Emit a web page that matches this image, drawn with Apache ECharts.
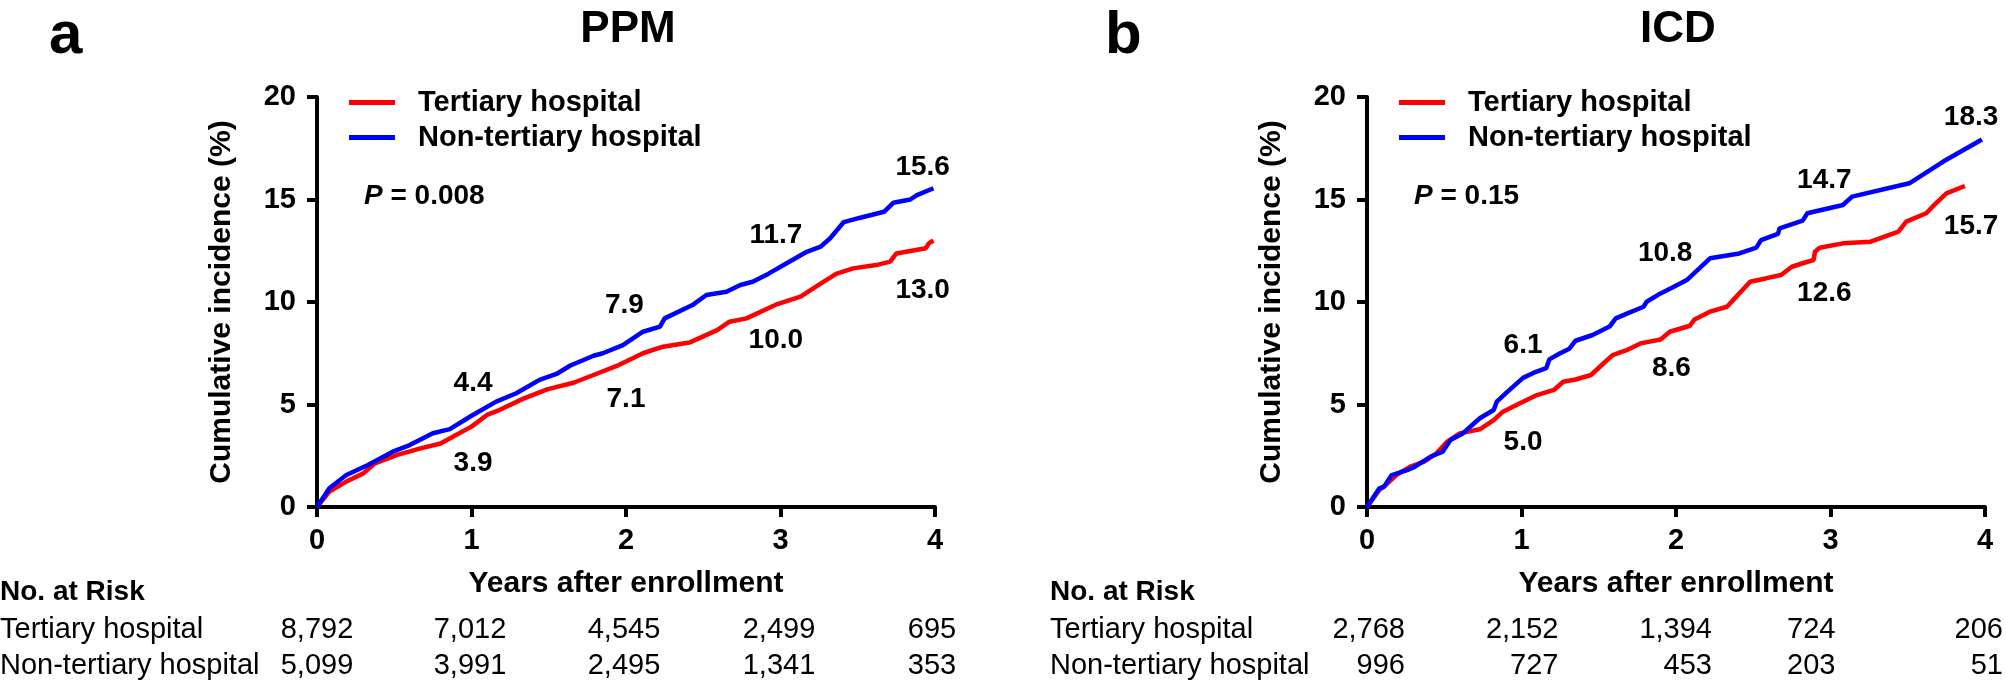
<!DOCTYPE html>
<html><head><meta charset="utf-8">
<script src="https://cdn.jsdelivr.net/npm/echarts@6/dist/echarts.min.js"></script>
<style>html,body{margin:0;padding:0;background:#fff}#c{width:2006px;height:687px}</style>
</head><body><div id="c"></div>
<script>
// ---------------- DATA ----------------
const panelTitles = ['PPM', 'ICD'];
const panelLetters = ['a', 'b'];
const seriesNames = ['Tertiary hospital', 'Non-tertiary hospital'];
const years = [0, 1, 2, 3, 4];
const pValues = ['0.008', '0.15'];
const xAxisTitle = 'Years after enrollment';
const yAxisTitle = 'Cumulative incidence (%)';
const riskTitle = 'No. at Risk';

// [years, cumulative incidence %]
const ppmTertiary = [[0,0],[0.08,0.75],[0.19,1.24],[0.30,1.64],[0.375,2.13],[0.52,2.54],[0.67,2.86],[0.80,3.1],[0.90,3.51],[1.0,3.92],[1.10,4.49],[1.18,4.73],[1.34,5.3],[1.49,5.74],[1.66,6.06],[1.79,6.44],[1.94,6.88],[2.0,7.1],[2.11,7.5],[2.24,7.82],[2.41,8.02],[2.59,8.63],[2.67,9.04],[2.78,9.2],[2.98,9.9],[3.13,10.26],[3.26,10.9],[3.36,11.37],[3.47,11.64],[3.62,11.8],[3.71,11.97],[3.75,12.37],[3.94,12.62],[3.96,12.86],[3.99,13.0]];
const ppmNonTertiary = [[0,0],[0.08,0.91],[0.19,1.56],[0.33,2.05],[0.49,2.7],[0.60,3.02],[0.75,3.6],[0.86,3.8],[1.0,4.45],[1.16,5.14],[1.29,5.55],[1.44,6.2],[1.55,6.49],[1.64,6.9],[1.79,7.38],[1.85,7.5],[1.98,7.9],[2.11,8.55],[2.22,8.8],[2.25,9.2],[2.43,9.85],[2.52,10.34],[2.65,10.5],[2.74,10.83],[2.82,10.99],[2.92,11.37],[3.04,11.89],[3.17,12.45],[3.26,12.7],[3.32,13.1],[3.41,13.9],[3.51,14.1],[3.67,14.4],[3.73,14.84],[3.84,15.0],[3.88,15.2],[3.99,15.55]];
const icdTertiary = [[0,0],[0.08,0.83],[0.11,0.99],[0.19,1.56],[0.28,1.97],[0.37,2.21],[0.45,2.62],[0.52,3.19],[0.60,3.59],[0.73,3.79],[0.82,4.24],[0.88,4.65],[0.99,5.06],[1.10,5.46],[1.21,5.71],[1.27,6.11],[1.35,6.22],[1.45,6.44],[1.53,7.0],[1.59,7.41],[1.68,7.65],[1.77,7.98],[1.90,8.17],[1.96,8.55],[2.09,8.84],[2.12,9.15],[2.22,9.53],[2.33,9.77],[2.41,10.42],[2.48,10.99],[2.58,11.15],[2.68,11.32],[2.75,11.72],[2.82,11.89],[2.89,12.05],[2.90,12.45],[2.93,12.65],[3.08,12.86],[3.26,12.94],[3.44,13.43],[3.49,13.92],[3.62,14.33],[3.66,14.65],[3.75,15.3],[3.87,15.66]];
const icdNonTertiary = [[0,0],[0.08,0.91],[0.11,0.99],[0.16,1.56],[0.26,1.8],[0.31,1.97],[0.41,2.45],[0.49,2.7],[0.54,3.27],[0.62,3.59],[0.73,4.33],[0.82,4.73],[0.84,5.14],[0.91,5.63],[1.01,6.3],[1.08,6.55],[1.16,6.77],[1.18,7.2],[1.25,7.5],[1.31,7.72],[1.35,8.11],[1.46,8.39],[1.57,8.8],[1.61,9.2],[1.69,9.46],[1.79,9.77],[1.81,10.01],[1.90,10.42],[1.98,10.72],[2.07,11.07],[2.22,12.13],[2.41,12.37],[2.52,12.65],[2.55,13.02],[2.66,13.32],[2.67,13.59],[2.82,13.97],[2.85,14.33],[3.08,14.73],[3.14,15.14],[3.51,15.79],[3.73,16.85],[3.98,17.93]];

const ppmLabelsTertiary = ['3.9', '7.1', '10.0', '13.0'];
const ppmLabelsNonTertiary = ['4.4', '7.9', '11.7', '15.6'];
const icdLabelsTertiary = ['5.0', '8.6', '12.6', '15.7'];
const icdLabelsNonTertiary = ['6.1', '10.8', '14.7', '18.3'];

const ppmRiskTertiary = ['8,792', '7,012', '4,545', '2,499', '695'];
const ppmRiskNonTertiary = ['5,099', '3,991', '2,495', '1,341', '353'];
const icdRiskTertiary = ['2,768', '2,152', '1,394', '724', '206'];
const icdRiskNonTertiary = ['996', '727', '453', '203', '51'];

// ---------------- LAYOUT ----------------
const FONT = 'Liberation Sans, Arial, Helvetica, sans-serif';
const RED = '#ff0000', BLUE = '#0000ff';
// annotation anchor positions in data units [year, %]
const ppmLabelPosT = [[1.01,2.15],[2.0,5.27],[2.97,8.15],[3.92,10.59]];
const ppmLabelPosN = [[1.01,6.05],[1.99,9.85],[2.97,13.27],[3.92,16.59]];
const icdLabelPosT = [[1.01,3.17],[1.97,6.78],[2.96,10.44],[3.91,13.71]];
const icdLabelPosN = [[1.01,7.9],[1.93,12.39],[2.96,15.95],[3.91,19.02]];
const grids = [{left:317, top:97, width:618, height:410}, {left:1367, top:97, width:618, height:410}];

const chart = echarts.init(document.getElementById('c'), null, {renderer:'canvas'});

function xAxisCfg(i){
  return {
    gridIndex:i, type:'value', min:0, max:4, interval:1,
    axisLine:{show:true, lineStyle:{color:'#000', width:4}},
    axisTick:{show:true, length:10, lineStyle:{color:'#000', width:4}},
    splitLine:{show:false},
    axisLabel:{color:'#000', fontSize:29, fontWeight:'bold', fontFamily:FONT, margin:19},
    name:xAxisTitle, nameLocation:'middle', nameGap:62,
    nameTextStyle:{color:'#000', fontSize:30, fontWeight:'bold', fontFamily:FONT}
  };
}
function yAxisCfg(i){
  return {
    gridIndex:i, type:'value', min:0, max:20, interval:5,
    axisLine:{show:true, lineStyle:{color:'#000', width:4}},
    axisTick:{show:true, length:10, lineStyle:{color:'#000', width:4}},
    splitLine:{show:false},
    axisLabel:{color:'#000', fontSize:29, fontWeight:'bold', fontFamily:FONT, margin:21},
    name:yAxisTitle, nameLocation:'middle', nameGap:80,
    nameTextStyle:{color:'#000', fontSize:30, fontWeight:'bold', fontFamily:FONT}
  };
}
function lineSeries(name, data, i, color){
  return {name, type:'line', xAxisIndex:i, yAxisIndex:i, data, showSymbol:false, symbol:'none',
    lineStyle:{color, width:4.5}, itemStyle:{color}, z:3, silent:true};
}
function labelSeries(texts, pos, i){
  return {name:'annot'+i, type:'scatter', xAxisIndex:i, yAxisIndex:i, symbolSize:0, silent:true, z:5,
    itemStyle:{opacity:1, color:'#000'},
    data: texts.map((t,k)=>({name:t, value:pos[k]})),
    label:{show:true, position:'inside', opacity:1, formatter:p=>p.name, color:'#000', fontSize:28, fontWeight:'bold', fontFamily:FONT}};
}
function legendCfg(left){
  return {data:seriesNames, left, top:83, orient:'vertical', icon:'rect', itemWidth:46, itemHeight:5, itemGap:6,
    selectedMode:false,
    textStyle:{color:'#000', fontSize:29, fontWeight:'bold', fontFamily:FONT, padding:[0,0,0,18]}};
}

const option = {
  animation:false,
  backgroundColor:'#fff',
  grid:grids,
  xAxis:[xAxisCfg(0), xAxisCfg(1)],
  yAxis:[yAxisCfg(0), yAxisCfg(1)],
  legend:[legendCfg(344), legendCfg(1394)],
  series:[
    lineSeries(seriesNames[0], ppmTertiary, 0, RED),
    lineSeries(seriesNames[1], ppmNonTertiary, 0, BLUE),
    lineSeries(seriesNames[0], icdTertiary, 1, RED),
    lineSeries(seriesNames[1], icdNonTertiary, 1, BLUE),
    labelSeries(ppmLabelsTertiary.concat(ppmLabelsNonTertiary), ppmLabelPosT.concat(ppmLabelPosN), 0),
    labelSeries(icdLabelsTertiary.concat(icdLabelsNonTertiary), icdLabelPosT.concat(icdLabelPosN), 1)
  ]
};
chart.setOption(option);

// ---------- text elements (titles, P values, risk tables) ----------
function txt(x, y, text, size, weight, align, extra){
  return Object.assign({type:'text', x, y, silent:true, z:10,
    style:{text, fill:'#000', font: (weight||'normal') + ' ' + size + 'px ' + FONT, textAlign:align||'left', textVerticalAlign:'middle'}}, extra||{});
}
const graphics = [];
const risk = [[ppmRiskTertiary, ppmRiskNonTertiary], [icdRiskTertiary, icdRiskNonTertiary]];
const panelOffsets = [0, 1050];
const rowY = [630, 666];
for (let i = 0; i < 2; i++){
  const ox = panelOffsets[i];
  graphics.push(txt(49 + ox + (i ? 6 : 0), 36, panelLetters[i], 60, 'bold', 'left'));
  const cx = chart.convertToPixel({gridIndex:i}, [2, 0])[0];
  graphics.push(txt(cx + 2, 30, panelTitles[i], 44, 'bold', 'center'));
  graphics.push({type:'text', x:364 + ox, y:196, silent:true, z:10,
    style:{text:'{i|P} = ' + pValues[i], fill:'#000', font:'bold 28px ' + FONT, textVerticalAlign:'middle',
      rich:{i:{fontStyle:'italic', fontWeight:'bold', fontSize:28, fontFamily:FONT, fill:'#000'}}}});
  graphics.push(txt(ox, 592, riskTitle, 28, 'bold', 'left'));
  graphics.push(txt(ox, rowY[0], seriesNames[0], 29, 'normal', 'left'));
  graphics.push(txt(ox, rowY[1], seriesNames[1], 29, 'normal', 'left'));
  years.forEach((yr, k) => {
    const px = chart.convertToPixel({gridIndex:i}, [yr, 0])[0];
    for (let r = 0; r < 2; r++){
      if (i === 0){
        const off = [0, -1.5, -2, -1.5, -3][k];
        graphics.push(txt(px + off, rowY[r], risk[i][r][k], 29, 'normal', 'center'));
      } else {
        const off = [38, 37, 36, 5, 18][k];
        graphics.push(txt(px + off, rowY[r], risk[i][r][k], 29, 'normal', 'right'));
      }
    }
  });
}
chart.setOption({graphic:graphics});
</script>
</body></html>
